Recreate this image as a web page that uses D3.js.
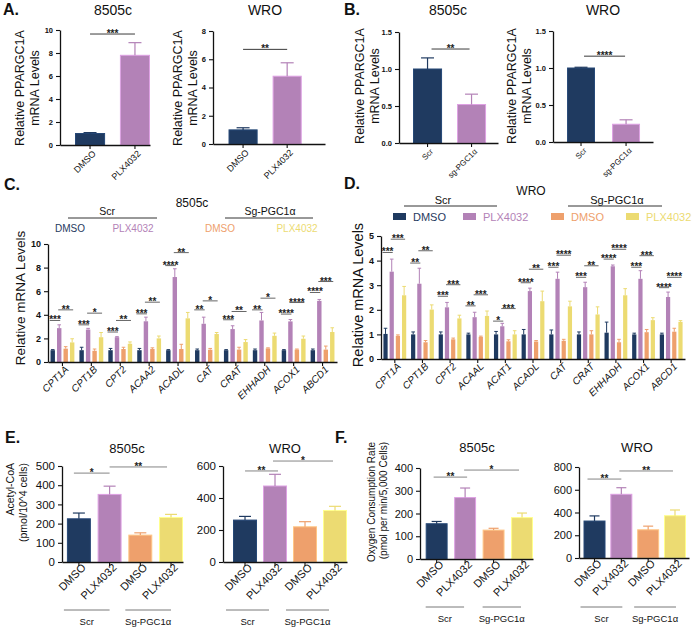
<!DOCTYPE html>
<html>
<head>
<meta charset="utf-8">
<script src="https://cdn.jsdelivr.net/npm/d3@7"></script>
<style>
  body { margin: 0; background: #fff; }
  svg { display: block; font-family: "Liberation Sans", Arial, sans-serif; }
</style>
</head>
<body>
<svg width="700" height="629"></svg>
<script>
// Couleurs des conditions
const colors = ["#1f3a60", "#b382b7", "#eea06c", "#ecdb72"];

// A. PPARGC1A apres PLX4032
const aCats = ["DMSO", "PLX4032"];
const a8505Mean = [1.0, 7.8];
const a8505Sd = [0.08, 1.1];
const aWroMean = [1.0, 4.8];
const aWroSd = [0.15, 0.95];

// B. PPARGC1A apres sg-PGC1a
const bCats = ["Scr", "sg-PGC1α"];
const b8505Mean = [1.0, 0.52];
const b8505Sd = [0.15, 0.14];
const bWroMean = [1.0, 0.24];
const bWroSd = [0.01, 0.06];

// C. 8505c, genes FAO
const cGenes = ["CPT1A", "CPT1B", "CPT2", "ACAA2", "ACADL", "CAT", "CRAT", "EHHADH", "ACOX1", "ABCD1"];
const cScrDmso = [1.0, 1.0, 1.0, 1.0, 1.0, 1.0, 1.0, 1.0, 1.0, 1.0];
const cScrPlx = [2.87, 2.75, 2.1, 3.45, 7.2, 3.24, 2.79, 3.52, 3.44, 5.18];
const cSgDmso = [1.13, 0.95, 1.1, 1.1, 1.1, 1.04, 1.05, 1.15, 1.05, 1.05];
const cSgPlx = [1.66, 2.1, 1.55, 2.0, 3.7, 2.37, 1.69, 2.22, 1.97, 2.54];
const cScrDmsoSd = [0.05, 0.25, 0.15, 0.15, 0.05, 0.1, 0.05, 0.1, 0.05, 0.1];
const cScrPlxSd = [0.28, 0.1, 0.05, 0.35, 0.7, 0.56, 0.28, 0.68, 0.16, 0.12];
const cSgDmsoSd = [0.17, 0.15, 0.15, 0.1, 0.4, 0.11, 0.2, 0.05, 0.05, 0.3];
const cSgPlxSd = [0.31, 0.4, 0.15, 0.2, 0.5, 0.13, 0.21, 0.23, 0.23, 0.36];
const cSigLo = [3.52, 3.15, 2.54, 4.08, 8.17, 4.42, 3.58, 4.42, 4.06, 5.89];
const cStarLo = ["***", "***", "***", "***", "****", "**", "***", "**", "****", "****"];
const cSigHi = [4.42, 4.14, 3.52, 5.07, 9.27, 5.18, 4.28, 5.41, 5.04, 6.82];
const cStarHi = ["**", "*", "**", "**", "**", "*", "**", "*", "****", "***"];

// D. WRO, genes FAO
const dGenes = ["CPT1A", "CPT1B", "CPT2", "ACAAL", "ACAT1", "ACADL", "CAT", "CRAT", "EHHADH", "ACOX1", "ABCD1"];
const dScrDmso = [1.02, 1.0, 1.0, 1.0, 1.0, 1.0, 1.0, 1.0, 1.07, 1.0, 1.0];
const dScrPlx = [3.55, 3.06, 2.1, 1.7, 1.33, 2.76, 3.26, 2.92, 3.77, 3.26, 2.52];
const dSgDmso = [0.94, 0.68, 0.8, 0.9, 0.72, 0.71, 0.74, 1.0, 0.68, 1.09, 1.11];
const dSgPlx = [2.59, 2.01, 1.65, 1.75, 1.0, 2.35, 2.14, 1.81, 2.59, 1.58, 1.51];
const dScrDmsoSd = [0.23, 0.1, 0.1, 0.05, 0.12, 0.2, 0.18, 0.1, 0.43, 0.05, 0.05];
const dScrPlxSd = [0.51, 0.63, 0.2, 0.2, 0.12, 0.12, 0.27, 0.2, 0.05, 0.33, 0.2];
const dSgDmsoSd = [0.04, 0.07, 0.05, 0.03, 0.06, 0.04, 0.06, 0.15, 0.12, 0.11, 0.14];
const dSgPlxSd = [0.36, 0.19, 0.13, 0.2, 0.15, 0.41, 0.21, 0.31, 0.27, 0.1, 0.05];
const dSigLo = [4.33, 3.9, 2.55, 2.16, 1.54, 3.1, 3.73, 3.32, 4.06, 3.73, 2.9];
const dStarLo = ["***", "**", "***", "**", "*", "****", "***", "***", "****", "***", "****"];
const dSigHi = [4.87, 4.4, 3.02, 2.61, 2.05, 3.65, 4.22, 3.79, 4.46, 4.2, 3.32];
const dStarHi = ["***", "**", "***", "***", "***", "**", "****", "**", "****", "***", "****"];

// E. Acetyl-CoA, F. OCR
const efCats = ["DMSO", "PLX4032", "DMSO", "PLX4032"];
const efGroups = ["Scr", "Sg-PGC1α"];
const e8505Mean = [225, 352, 140, 232];
const e8505Sd = [30, 43, 12, 16];
const eWroMean = [262, 475, 220, 322];
const eWroSd = [23, 73, 32, 26];
const f8505Mean = [155, 270, 127, 182];
const f8505Sd = [10, 42, 8, 20];
const fWroMean = [325, 560, 248, 372];
const fWroSd = [45, 58, 32, 50];

const svg = d3.select("svg");

function txt(x, y, s, size, opts = {}) {
    return svg.append("text")
        .attr("x", x).attr("y", y)
        .attr("font-size", size)
        .attr("text-anchor", opts.anchor || "middle")
        .attr("font-weight", opts.bold ? "bold" : null)
        .attr("fill", opts.fill || "#111")
        .text(s);
}

function stars(x1, x2, y, s, color, size) {
    svg.append("line")
        .attr("x1", x1).attr("x2", x2).attr("y1", y).attr("y2", y)
        .attr("stroke", color).attr("stroke-width", 0.9);
    txt((x1 + x2) / 2, y + 3, s, size, { bold: true, fill: "#222" });
}

// Panneau simple (A, B, E, F)
function simplePanel(c) {
    const g = svg.append("g");
    const x = d3.scaleBand().domain(d3.range(c.cats.length))
        .range([c.x0, c.x1]).paddingInner(c.pi).paddingOuter(c.po).align(c.align);
    const y = d3.scaleLinear().domain([0, c.yMax]).range([c.yBase, c.yTop]);
    const cx = i => x(i) + x.bandwidth() / 2;

    g.selectAll(".bar").data(c.mean).join("rect")
        .attr("class", "bar")
        .attr("x", (d, i) => x(i) + 0.5).attr("width", x.bandwidth() - 1)
        .attr("y", d => y(d)).attr("height", d => y(0) - y(d))
        .attr("fill", (d, i) => colors[i])
        .attr("stroke", (d, i) => d3.color(colors[i]).brighter(0.6))
        .attr("stroke-width", 1);

    // barres d'erreur (moyenne + SD)
    const eb = g.selectAll(".err").data(c.mean).join("g").attr("class", "err")
        .attr("stroke", (d, i) => colors[i]).attr("stroke-width", 1.2);
    eb.append("line").attr("x1", (d, i) => cx(i)).attr("x2", (d, i) => cx(i))
        .attr("y1", d => y(d)).attr("y2", (d, i) => y(d + c.sd[i]));
    eb.append("line").attr("x1", (d, i) => cx(i) - c.cap).attr("x2", (d, i) => cx(i) + c.cap)
        .attr("y1", (d, i) => y(d + c.sd[i])).attr("y2", (d, i) => y(d + c.sd[i]));

    const ya = g.append("g").attr("transform", `translate(${c.x0},0)`)
        .call(d3.axisLeft(y).tickValues(c.ticks).tickSize(4).tickSizeOuter(0).tickFormat(c.fmt || (d => d)));
    const xa = g.append("g").attr("transform", `translate(0,${c.yBase})`)
        .call(d3.axisBottom(x).tickSize(4).tickSizeOuter(0).tickFormat(i => c.cats[i]));
    [ya, xa].forEach(a => {
        a.select(".domain").attr("stroke", "#111").attr("stroke-width", 1.3);
        a.selectAll(".tick line").attr("stroke", "#111").attr("stroke-width", 1.1);
    });
    ya.selectAll("text").attr("font-size", c.tickSize).attr("font-weight", c.bold ? "bold" : null)
        .attr("fill", "#111").attr("font-family", null);
    xa.selectAll("text").attr("font-size", c.xSize).attr("fill", "#111").attr("font-family", null)
        .attr("text-anchor", "end").attr("x", c.xdx).attr("y", c.xdy).attr("dy", "0.35em")
        .attr("transform", "rotate(-45)");

    // titre du panneau
    txt(c.titleX, c.titleY, c.title, c.titleSize);

    // significativite
    c.sigs.forEach(s => stars(cx(s[0]) + (s[3] || 0), cx(s[1]) + (s[4] || 0), y(s[2]), s[5], c.sigColor, c.starSize));

    // etiquette de l'axe Y
    c.ylab.forEach((l, k) => {
        svg.append("text")
            .attr("transform", `translate(${c.ylabX[k]},${c.ylabY}) rotate(-90)`)
            .attr("text-anchor", c.ylabAnchor || "middle")
            .attr("font-size", c.ylabSize).attr("fill", "#111").text(l);
    });

    // groupes Scr / Sg-PGC1a sous l'axe
    if (c.groupY) {
        [[0, 1], [2, 3]].forEach((p, k) => {
            const a = x(p[0]) + c.gPad[0], b = x(p[1]) + x.bandwidth() + c.gPad[1];
            svg.append("line").attr("x1", a).attr("x2", b).attr("y1", c.groupY).attr("y2", c.groupY)
                .attr("stroke", "#555").attr("stroke-width", 0.8);
            txt((a + b) / 2, c.groupY + 15, efGroups[k], 9.5);
        });
    }
}

// Panneau groupe (C, D)
function groupPanel(c) {
    const g = svg.append("g");
    const x0 = d3.scaleBand().domain(c.genes).range([c.x0, c.x1]).paddingInner(c.pi).paddingOuter(c.pi / 2);
    const x1 = d3.scaleBand().domain(d3.range(4)).range([0, x0.bandwidth()]).paddingInner(0.32).paddingOuter(0.1);
    const y = d3.scaleLinear().domain([0, c.yMax]).range([c.yBase, c.yTop]);
    const cx = (gene, k) => x0(gene) + x1(k) + x1.bandwidth() / 2;

    const rows = [];
    c.series.forEach((vals, k) => vals.forEach((v, i) => rows.push({ gene: c.genes[i], k, v, sd: c.sds[k][i] })));

    g.selectAll(".bar").data(rows).join("rect")
        .attr("x", d => x0(d.gene) + x1(d.k)).attr("width", x1.bandwidth())
        .attr("y", d => y(d.v)).attr("height", d => y(0) - y(d.v))
        .attr("fill", d => colors[d.k]);
    const eb = g.selectAll(".err").data(rows).join("g")
        .attr("stroke", d => colors[d.k]).attr("stroke-width", 1);
    eb.append("line").attr("x1", d => cx(d.gene, d.k)).attr("x2", d => cx(d.gene, d.k))
        .attr("y1", d => y(d.v)).attr("y2", d => y(d.v + d.sd));
    eb.append("line").attr("x1", d => cx(d.gene, d.k) - 1.8).attr("x2", d => cx(d.gene, d.k) + 1.8)
        .attr("y1", d => y(d.v + d.sd)).attr("y2", d => y(d.v + d.sd));

    const ya = g.append("g").attr("transform", `translate(${c.x0},0)`)
        .call(d3.axisLeft(y).ticks(c.yMax / c.step).tickSize(4).tickSizeOuter(0));
    const xa = g.append("g").attr("transform", `translate(0,${c.yBase})`)
        .call(d3.axisBottom(x0).tickSize(4).tickSizeOuter(0));
    [ya, xa].forEach(a => {
        a.select(".domain").attr("stroke", "#111").attr("stroke-width", 1.3);
        a.selectAll(".tick line").attr("stroke", "#111").attr("stroke-width", 1.1);
    });
    ya.selectAll("text").attr("font-size", c.tickSize).attr("font-weight", "bold").attr("fill", "#111").attr("font-family", null);
    xa.selectAll("text").attr("font-size", 10).attr("font-style", "italic").attr("fill", "#111").attr("font-family", null)
        .attr("text-anchor", "end").attr("x", -1).attr("y", 7).attr("dy", "0.35em")
        .attr("transform", "rotate(-45)");

    c.genes.forEach((gene, i) => {
        stars(cx(gene, 0) - 3, cx(gene, 1) + 1, y(c.sigLo[i]), c.starLo[i], "#555", 10);
        stars(cx(gene, 1) - 1, cx(gene, 3) + 1, y(c.sigHi[i]), c.starHi[i], "#555", 10);
    });

    svg.append("text")
        .attr("transform", `translate(${c.ylabX},${c.ylabY}) rotate(-90)`)
        .attr("text-anchor", "middle").attr("font-size", c.ylabSize).attr("fill", "#111")
        .text("Relative mRNA Levels");
}

// Lettres des panneaux
[["A.", 3, 15], ["B.", 344, 15], ["C.", 4, 190], ["D.", 344, 189], ["E.", 5, 443], ["F.", 335, 443]]
    .forEach(l => txt(l[1], l[2], l[0], 16, { bold: true, anchor: "start" }));

const ppar = ["Relative PPARGC1A", "mRNA Levels"];

// A
simplePanel({ cats: aCats, mean: a8505Mean, sd: a8505Sd, x0: 60, x1: 150, pi: 0.33, po: 0.167, align: 1,
    yTop: 30, yBase: 145, yMax: 10, ticks: [0, 2, 4, 6, 8, 10], tickSize: 7.5, bold: true, xSize: 9, xdx: -2, xdy: 8,
    cap: 6.5, title: "8505c", titleX: 113, titleY: 15, titleSize: 14,
    sigs: [[0, 1, 9.65, 0, 0, "***"]], sigColor: "#222", starSize: 10,
    ylab: ppar, ylabX: [24, 39], ylabY: 88, ylabSize: 12.5 });
simplePanel({ cats: aCats, mean: aWroMean, sd: aWroSd, x0: 213, x1: 325, pi: 0.34, po: 0.44, align: 0.4,
    yTop: 31, yBase: 144, yMax: 8, ticks: [0, 2, 4, 6, 8], tickSize: 7.5, bold: true, xSize: 9, xdx: -2, xdy: 8,
    cap: 6.5, title: "WRO", titleX: 265, titleY: 15, titleSize: 14,
    sigs: [[0, 1, 6.7, 0, 0, "**"]], sigColor: "#222", starSize: 10,
    ylab: ppar, ylabX: [182, 197], ylabY: 88, ylabSize: 12.5 });

// B
simplePanel({ cats: bCats, mean: b8505Mean, sd: b8505Sd, x0: 399, x1: 498, pi: 0.34, po: 0.295, align: 0.54,
    yTop: 32, yBase: 143, yMax: 1.5, ticks: [0, 0.5, 1.0, 1.5], fmt: d3.format(".1f"), tickSize: 7.5, bold: true,
    xSize: 8, xdx: -2, xdy: 8, cap: 6.5, title: "8505c", titleX: 448, titleY: 15, titleSize: 14,
    sigs: [[0, 1, 1.27, 4, -2, "**"]], sigColor: "#222", starSize: 10,
    ylab: ppar, ylabX: [364, 379], ylabY: 86, ylabSize: 12.5 });
simplePanel({ cats: bCats, mean: bWroMean, sd: bWroSd, x0: 553, x1: 653, pi: 0.38, po: 0.3, align: 0.52,
    yTop: 31, yBase: 142, yMax: 1.5, ticks: [0, 0.5, 1.0, 1.5], fmt: d3.format(".1f"), tickSize: 7.5, bold: true,
    xSize: 8, xdx: -2, xdy: 8, cap: 6.5, title: "WRO", titleX: 603, titleY: 15, titleSize: 14,
    sigs: [[0, 1, 1.16, 3, -1, "****"]], sigColor: "#222", starSize: 10,
    ylab: ppar, ylabX: [516, 531], ylabY: 86, ylabSize: 12.5 });

// C
groupPanel({ genes: cGenes, series: [cScrDmso, cScrPlx, cSgDmso, cSgPlx],
    sds: [cScrDmsoSd, cScrPlxSd, cSgDmsoSd, cSgPlxSd],
    sigLo: cSigLo, starLo: cStarLo, sigHi: cSigHi, starHi: cStarHi,
    x0: 48, x1: 337, pi: 0.13, yTop: 244, yBase: 362, yMax: 10, step: 2, tickSize: 9,
    ylabX: 25, ylabY: 298, ylabSize: 13.5 });
txt(192, 207, "8505c", 12);
txt(107, 215, "Scr", 10.5);
svg.append("line").attr("x1", 68).attr("x2", 157).attr("y1", 218).attr("y2", 218).attr("stroke", "#333");
txt(270, 215, "Sg-PGC1α", 10.5);
svg.append("line").attr("x1", 225).attr("x2", 313).attr("y1", 218).attr("y2", 218).attr("stroke", "#333");
txt(70, 232, "DMSO", 10, { fill: colors[0] });
txt(133, 232, "PLX4032", 10, { fill: colors[1] });
txt(220, 232, "DMSO", 10, { fill: colors[2] });
txt(297, 232, "PLX4032", 10, { fill: colors[3] });

// D
groupPanel({ genes: dGenes, series: [dScrDmso, dScrPlx, dSgDmso, dSgPlx],
    sds: [dScrDmsoSd, dScrPlxSd, dSgDmsoSd, dSgPlxSd],
    sigLo: dSigLo, starLo: dStarLo, sigHi: dSigHi, starHi: dStarHi,
    x0: 381, x1: 685, pi: 0.13, yTop: 236, yBase: 359, yMax: 5, step: 1, tickSize: 9,
    ylabX: 363, ylabY: 295, ylabSize: 14.5 });
txt(531, 195, "WRO", 12);
txt(443, 204, "Scr", 11);
svg.append("line").attr("x1", 404).attr("x2", 497).attr("y1", 206).attr("y2", 206).attr("stroke", "#333");
txt(617, 204, "Sg-PGC1α", 11);
svg.append("line").attr("x1", 568).attr("x2", 662).attr("y1", 206).attr("y2", 206).attr("stroke", "#333");
const dLegend = [["DMSO", 393], ["PLX4032", 463], ["DMSO", 551], ["PLX4032", 626]];
dLegend.forEach((l, k) => {
    svg.append("rect").attr("x", l[1]).attr("y", 213).attr("width", 13).attr("height", 7).attr("fill", colors[k]);
    txt(l[1] + 20, 221, l[0], 11, { anchor: "start", fill: colors[k] });
});

// E
const acoa = ["Acetyl-CoA", "(pmol/10^4 cells)"];
simplePanel({ cats: efCats, mean: e8505Mean, sd: e8505Sd, x0: 62, x1: 183, pi: 0.22, po: 0.08, align: 1,
    yTop: 466, yBase: 562, yMax: 500, ticks: [0, 100, 200, 300, 400, 500], tickSize: 11.5, xSize: 11, xdx: 1, xdy: 6,
    cap: 6, title: "8505c", titleX: 127, titleY: 453, titleSize: 13,
    sigs: [[0, 1, 463, -5, 0, "*"], [1, 3, 495, 0, -4, "**"]], sigColor: "#777", starSize: 10,
    ylab: acoa, ylabX: [14, 27], ylabY: 463, ylabAnchor: "end", ylabSize: 10.5,
    groupY: 610, gPad: [-3, -12] });
simplePanel({ cats: efCats, mean: eWroMean, sd: eWroSd, x0: 223, x1: 347, pi: 0.2, po: 0.167, align: 1,
    yTop: 466, yBase: 562, yMax: 600, ticks: [0, 200, 400, 600], tickSize: 11.5, xSize: 11, xdx: 1, xdy: 6,
    cap: 6, title: "WRO", titleX: 285, titleY: 453, titleSize: 13,
    sigs: [[0, 1, 569, 0, 3, "**"], [1, 3, 631, -2, -2, "*"]], sigColor: "#777", starSize: 10,
    ylab: [], ylabX: [], ylabY: 0, ylabSize: 10,
    groupY: 610, gPad: [-7, -18] });

// F
const ocr = ["Oxygen Consumption Rate", "(pmol per min/5,000 Cells)"];
simplePanel({ cats: efCats, mean: f8505Mean, sd: f8505Sd, x0: 420, x1: 533, pi: 0.23, po: 0.1, align: 1,
    yTop: 468, yBase: 559, yMax: 400, ticks: [0, 100, 200, 300, 400], tickSize: 11, xSize: 11, xdx: 1, xdy: 6,
    cap: 5, title: "8505c", titleX: 477, titleY: 452, titleSize: 13,
    sigs: [[0, 1, 360, -3, 2, "**"], [1, 3, 391, -1, -3, "*"]], sigColor: "#777", starSize: 10,
    ylab: ocr, ylabX: [375, 387], ylabY: 442, ylabAnchor: "end", ylabSize: 10,
    groupY: 607, gPad: [0, -12] });
simplePanel({ cats: efCats, mean: fWroMean, sd: fWroSd, x0: 579, x1: 689, pi: 0.18, po: 0.14, align: 0.6,
    yTop: 467, yBase: 558, yMax: 800, ticks: [0, 200, 400, 600, 800], tickSize: 11, xSize: 11, xdx: 1, xdy: 6,
    cap: 5, title: "WRO", titleX: 637, titleY: 452, titleSize: 13,
    sigs: [[0, 1, 694, -7, 0, "**"], [1, 3, 765, -2, -2, "**"]], sigColor: "#777", starSize: 10,
    ylab: [], ylabX: [], ylabY: 0, ylabSize: 10,
    groupY: 607, gPad: [-3, -10] });
</script>
</body>
</html>
